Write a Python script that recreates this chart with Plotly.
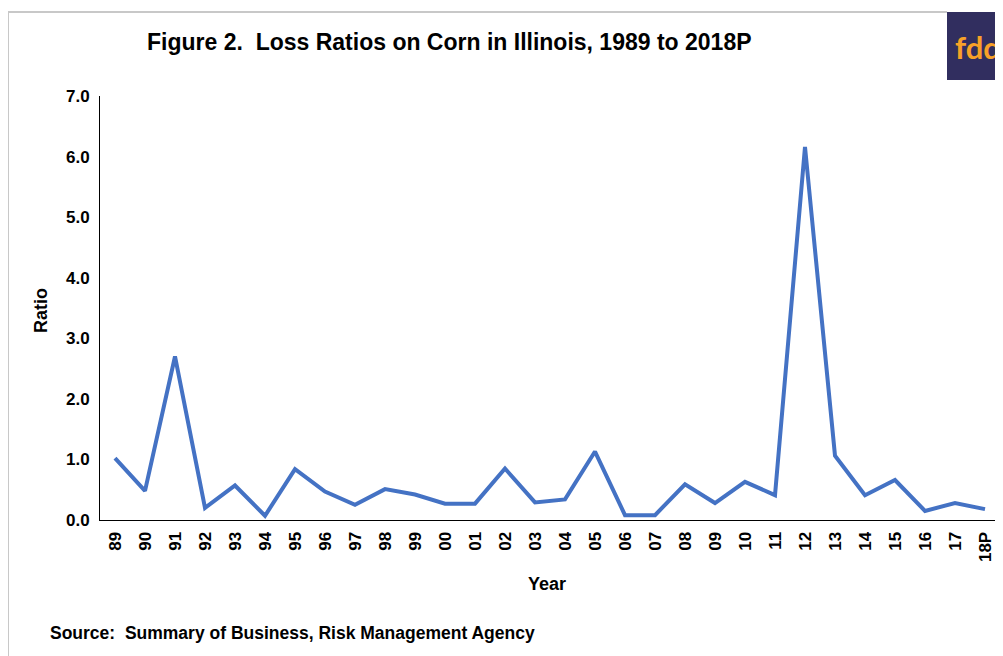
import plotly.graph_objects as go

years = ["89", "90", "91", "92", "93", "94", "95", "96", "97", "98", "99", "00", "01", "02",
         "03", "04", "05", "06", "07", "08", "09", "10", "11", "12", "13", "14", "15", "16", "17", "18P"]
loss_ratio = [1.02, 0.48, 2.70, 0.20, 0.57, 0.07, 0.84, 0.47, 0.25, 0.51, 0.42, 0.27, 0.27, 0.85,
              0.29, 0.34, 1.13, 0.08, 0.08, 0.59, 0.28, 0.63, 0.41, 6.16, 1.06, 0.41, 0.66, 0.15, 0.28, 0.18]
y_ticks = [0, 1, 2, 3, 4, 5, 6, 7]

# page offset (default body margin) compensation
OFF = 8
W, H = 1003 - OFF, 656 - OFF
# plot area in reference pixel coordinates: x 100..1000, y 96..520
L, R = 100 - OFF, 3
T, B = 96 - OFF, 656 - 520
PW, PH = W - L - R, H - T - B

def px(x):
    return (x - OFF - L) / PW

def py(y):
    return (520 - y) / PH

FONT = "Arial, Liberation Sans, sans-serif"

fig = go.Figure()
fig.add_trace(go.Scatter(
    x=years, y=loss_ratio, mode="lines",
    line=dict(color="#4472C4", width=4),
    hoverinfo="x+y", showlegend=False,
))

fig.update_layout(
    width=W, height=H,
    margin=dict(l=L, r=R, t=T, b=B, pad=0),
    paper_bgcolor="white", plot_bgcolor="white",
    font=dict(family=FONT, color="#000000"),
    xaxis=dict(
        type="category", range=[-0.5, len(years) - 0.5],
        showline=True, linecolor="#000000", linewidth=1,
        showgrid=False, zeroline=False, ticks="",
        ticklabelstandoff=4,
        tickangle=-90, tickfont=dict(size=17, family=FONT, weight="bold"),
    ),
    yaxis=dict(
        range=[0, 7], tickvals=y_ticks, tickformat=".1f",
        showline=True, linecolor="#000000", linewidth=1,
        showgrid=False, zeroline=False, ticks="",
        ticklabelstandoff=6,
        tickfont=dict(size=17, family=FONT, weight="bold"),
    ),
)

ann = [
    dict(text="<b>Figure 2.  Loss Ratios on Corn in Illinois, 1989 to 2018P</b>",
         x=px(145), y=py(42), xanchor="left", yanchor="middle", font=dict(size=23)),
    dict(text="<b>Ratio</b>", x=px(41), y=py(310), textangle=-90,
         xanchor="center", yanchor="middle", font=dict(size=18)),
    dict(text="<b>Year</b>", x=px(547), y=py(584), xanchor="center", yanchor="middle",
         font=dict(size=18)),
    dict(text="<b>Source:  Summary of Business, Risk Management Agency</b>",
         x=px(48), y=py(633), xanchor="left", yanchor="middle", font=dict(size=17.5)),
    dict(text="fdd", x=px(953), y=py(47), xanchor="left", yanchor="middle",
         font=dict(size=31, color="#F7A128", family="Lato, Arial, sans-serif", weight="bold")),
]
for a in ann:
    a.update(xref="paper", yref="paper", showarrow=False)
fig.update_layout(annotations=ann)

shapes = [
    dict(type="line", x0=px(8), x1=px(947), y0=py(12), y1=py(12),
         line=dict(color="#C8C8C8", width=2)),
    dict(type="line", x0=px(8), x1=px(8), y0=py(12), y1=py(660),
         line=dict(color="#C8C8C8", width=2)),
    dict(type="rect", x0=px(947), x1=px(1010), y0=py(12), y1=py(80),
         fillcolor="#312E5F", line=dict(width=0), layer="below"),
]
for s in shapes:
    s.update(xref="paper", yref="paper")
fig.update_layout(shapes=shapes)

fig.write_html("out.html")
